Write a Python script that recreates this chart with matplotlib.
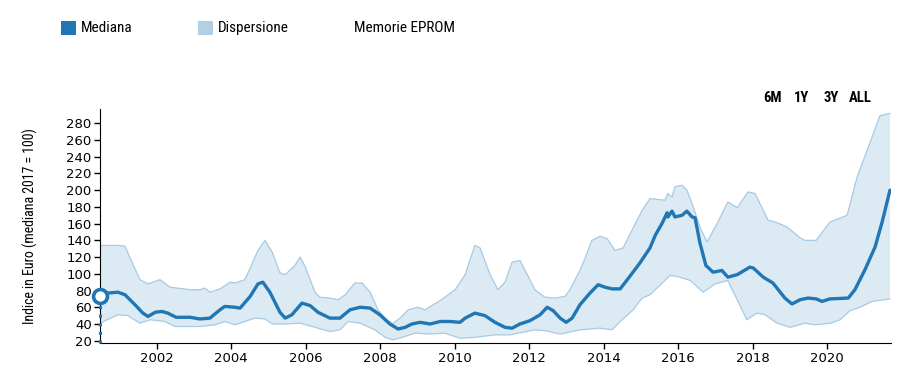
import numpy as np
import matplotlib
matplotlib.use('Agg')
import matplotlib.pyplot as plt
from matplotlib import font_manager
from matplotlib.patches import Rectangle

# median (decimal year, index value)
med_years = [2000.48, 2000.69, 2000.96, 2001.15, 2001.42, 2001.63, 2001.77, 2001.96, 2002.14, 2002.30,
             2002.52, 2002.90, 2003.16, 2003.43, 2003.70, 2003.83, 2004.10, 2004.24, 2004.51, 2004.72,
             2004.85, 2005.04, 2005.31, 2005.45, 2005.63, 2005.90, 2006.12, 2006.33, 2006.65, 2006.92,
             2007.19, 2007.46, 2007.73, 2007.99, 2008.26, 2008.48, 2008.67, 2008.85, 2009.07, 2009.34,
             2009.61, 2009.87, 2010.14, 2010.28, 2010.54, 2010.81, 2011.08, 2011.35, 2011.54, 2011.75,
             2012.02, 2012.29, 2012.48, 2012.64, 2012.83, 2012.99, 2013.15, 2013.36, 2013.63, 2013.85,
             2014.03, 2014.22, 2014.44, 2014.70, 2014.97, 2015.24, 2015.38, 2015.56, 2015.70, 2015.72,
             2015.83, 2015.91, 2016.10, 2016.23, 2016.37, 2016.45, 2016.58, 2016.74, 2016.79, 2016.93,
             2017.17, 2017.33, 2017.58, 2017.92, 2018.01, 2018.28, 2018.54, 2018.86, 2019.05, 2019.27,
             2019.48, 2019.70, 2019.86, 2020.07, 2020.56, 2020.74, 2021.01, 2021.28, 2021.47, 2021.68]
med_vals = [73, 77, 78, 75, 63, 53, 49, 54, 55, 53,
            48, 48, 46, 47, 57, 61, 60, 59, 73, 88,
            90, 78, 54, 47, 51, 65, 62, 54, 47, 47,
            57, 60, 59, 51, 40, 34, 36, 40, 42, 40,
            43, 43, 42, 47, 53, 50, 42, 36, 35, 40,
            44, 51, 60, 56, 47, 42, 47, 63, 77, 87,
            84, 82, 82, 97, 113, 131, 146, 160, 173, 168,
            175, 168, 170, 175, 168, 167, 137, 110, 108, 102,
            104, 96, 99, 108, 107, 96, 89, 71, 64, 69,
            71, 70, 67, 70, 71, 81, 105, 132, 162, 200]

# upper edge of the dispersion band
hi_years = [2000.48, 2000.96, 2001.15, 2001.55, 2001.77, 2002.09, 2002.36, 2002.90, 2003.16, 2003.30,
            2003.43, 2003.70, 2003.97, 2004.10, 2004.37, 2004.51, 2004.72, 2004.91, 2005.10, 2005.31,
            2005.45, 2005.71, 2005.85, 2005.98, 2006.25, 2006.38, 2006.65, 2006.87, 2007.06, 2007.32,
            2007.51, 2007.73, 2007.94, 2008.13, 2008.32, 2008.53, 2008.75, 2009.01, 2009.20, 2009.61,
            2010.01, 2010.28, 2010.54, 2010.68, 2010.95, 2011.16, 2011.35, 2011.54, 2011.75, 2011.97,
            2012.15, 2012.42, 2012.69, 2012.96, 2013.09, 2013.36, 2013.50, 2013.68, 2013.90, 2014.09,
            2014.30, 2014.52, 2014.79, 2015.03, 2015.24, 2015.64, 2015.72, 2015.83, 2015.91, 2016.10,
            2016.23, 2016.37, 2016.58, 2016.77, 2017.04, 2017.33, 2017.58, 2017.87, 2018.06, 2018.41,
            2018.60, 2018.92, 2019.27, 2019.40, 2019.70, 2020.07, 2020.53, 2020.80, 2021.07, 2021.41,
            2021.68]
hi_vals = [134, 134, 133, 93, 88, 93, 84, 81, 81, 83,
           78, 82, 90, 89, 93, 107, 128, 140, 126, 101,
           99, 110, 120, 109, 78, 72, 71, 69, 75, 89,
           89, 78, 57, 47, 40, 47, 57, 60, 57, 68,
           81, 99, 134, 131, 99, 81, 90, 114, 116, 97,
           81, 72, 71, 73, 81, 104, 119, 140, 145, 142,
           128, 131, 155, 176, 190, 188, 196, 192, 204, 206,
           200, 184, 156, 138, 160, 186, 179, 198, 196, 164,
           162, 156, 143, 140, 140, 162, 170, 216, 248, 289,
           292]

# lower edge of the dispersion band
lo_years = [2000.48, 2000.96, 2001.23, 2001.55, 2001.82, 2002.22, 2002.49, 2003.16, 2003.57, 2003.84,
            2004.10, 2004.37, 2004.64, 2004.91, 2005.10, 2005.45, 2005.85, 2006.25, 2006.65, 2006.92,
            2007.14, 2007.46, 2007.86, 2008.13, 2008.34, 2008.59, 2008.93, 2009.34, 2009.74, 2010.14,
            2010.54, 2011.08, 2011.48, 2012.15, 2012.42, 2012.83, 2013.36, 2013.90, 2014.22, 2014.44,
            2014.79, 2015.03, 2015.24, 2015.78, 2015.97, 2016.32, 2016.67, 2016.99, 2017.33, 2017.58,
            2017.84, 2018.11, 2018.33, 2018.65, 2019.00, 2019.40, 2019.67, 2020.10, 2020.34, 2020.61,
            2020.88, 2021.20, 2021.68]
lo_vals = [41, 51, 50, 41, 45, 43, 37, 37, 39, 43,
           39, 43, 47, 46, 40, 40, 41, 36, 31, 33,
           43, 41, 33, 24, 21, 24, 29, 28, 29, 23,
           24, 27, 27, 33, 32, 28, 33, 35, 33, 43,
           57, 71, 75, 98, 97, 92, 78, 88, 92, 69,
           45, 53, 51, 41, 36, 41, 39, 41, 45, 56,
           60, 67, 70]

year_ticks = [2002, 2004, 2006, 2008, 2010, 2012, 2014, 2016, 2018, 2020]
value_ticks = list(range(20, 300, 20))
range_buttons = ['6M', '1Y', '3Y', 'ALL']

DARK = '#2176b4'
FILL = '#dceaf4'
EDGE = '#a8cae2'

names = {f.name for f in font_manager.fontManager.ttflist}
cond = 'Roboto Condensed' if 'Roboto Condensed' in names else (
    'Liberation Sans Narrow' if 'Liberation Sans Narrow' in names else 'Roboto')

W, H = 918, 377
fig = plt.figure(figsize=(W / 100, H / 100), dpi=100)
ax = fig.add_axes([100 / W, 1 - 343.3 / H, (890.7 - 100) / W, (343.3 - 108.7) / H])

poly_x = np.concatenate([hi_years, lo_years[::-1]])
poly_y = np.concatenate([hi_vals, lo_vals[::-1]])
ax.fill(poly_x, poly_y, facecolor=FILL, edgecolor='none', zorder=1)
ax.plot(hi_years, hi_vals, color=EDGE, lw=0.9, zorder=2)
ax.plot(lo_years, lo_vals, color=EDGE, lw=0.9, zorder=2)
ax.plot(med_years, med_vals, color=DARK, lw=2.4, zorder=3, solid_capstyle='round',
        solid_joinstyle='round')

# start marker + dotted drop line
ax.plot([med_years[0], med_years[0]], [16.9, med_vals[0]], color=DARK, lw=2.2,
        ls=(0, (1, 1.8)), zorder=3, clip_on=False)
ax.plot(med_years[0], med_vals[0], 'o', ms=10, mfc='white', mec=DARK, mew=2.6,
        zorder=5, clip_on=False)

ax.set_xlim(2000.48, 2021.70)
ax.set_ylim(16.9, 297.5)
ax.set_xticks(year_ticks)
ax.set_xticklabels([str(y) for y in year_ticks])
ax.set_yticks(value_ticks)
ax.spines['top'].set_visible(False)
ax.spines['right'].set_visible(False)
ax.tick_params(axis='both', labelsize=9.5, length=4, width=1, pad=2, colors='black')
ax.set_ylabel('Indice in Euro (mediana 2017 = 100)', family=cond, fontsize=10)
ax.yaxis.set_label_coords(-62 / (890.7 - 100), 0.5)

# legend
fig.patches.append(Rectangle((61 / W, 1 - 35 / H), 15 / W, 14 / H, transform=fig.transFigure,
                             facecolor=DARK, edgecolor='none'))
fig.patches.append(Rectangle((198 / W, 1 - 35 / H), 15 / W, 14 / H, transform=fig.transFigure,
                             facecolor='#b1d0e6', edgecolor='none'))
fig.text(81 / W, 1 - 28 / H, 'Mediana', family=cond, fontsize=11, va='center')
fig.text(218 / W, 1 - 28 / H, 'Dispersione', family=cond, fontsize=11, va='center')
fig.text(354 / W, 1 - 28 / H, 'Memorie EPROM', family=cond, fontsize=11, va='center')

for lab, xc in zip(range_buttons, [772.5, 801.5, 831, 860]):
    fig.text(xc / W, 1 - 97.5 / H, lab, family=cond, fontsize=10.5, fontweight='bold',
             ha='center', va='center')

fig.savefig('out.png', dpi=100)
